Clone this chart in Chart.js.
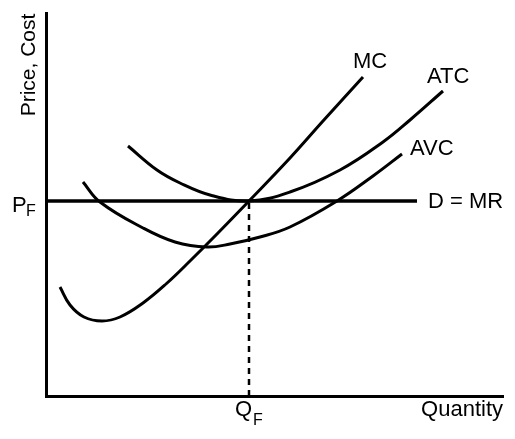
<!DOCTYPE html>
<html>
<head>
<meta charset="utf-8">
<script src="https://cdn.jsdelivr.net/npm/chart.js@4"></script>
<style>
  html, body { margin: 0; padding: 0; background: #fff; }
  #wrap { width: 515px; height: 439px; }
</style>
</head>
<body>
<div id="wrap"><canvas id="chart"></canvas></div>
<script>
// ─── Data (quantity, price/cost in arbitrary units) ──────────────────────────
var mcX  = [14, 24, 38, 56, 74, 97, 120, 145, 170, 203, 244, 277, 317];
var mcY  = [109, 91, 79, 75, 79, 93, 112, 136, 161, 195, 238, 275, 319];
var atcX = [82, 111, 134, 164, 203, 244, 294, 337, 364, 397];
var atcY = [250, 226, 213, 201, 195, 204, 226, 254, 276, 305];
var avcX = [37, 54, 97, 129, 161, 184, 214, 244, 291, 327, 356];
var avcY = [214, 194, 168, 154, 149, 152, 159, 169, 195, 220, 242];
var priceF = 195;     // P_F
var qtyF   = 203;     // Q_F
var mrEnd  = 371;     // where D = MR stops
var xMax = 457, yMax = 383;

function pts(xs, ys) { return xs.map((x, i) => ({ x: x, y: ys[i] })); }

const FONT = '"Liberation Sans", Arial, Helvetica, sans-serif';

// ─── Labels drawn on top of the chart ─────────────────────────────────────────
const labelsPlugin = {
    id: 'econLabels',
    afterDraw(chart) {
        const ctx = chart.ctx;
        const xs = chart.scales.x, ys = chart.scales.y;
        const px = v => xs.getPixelForValue(v), py = v => ys.getPixelForValue(v);
        ctx.save();
        ctx.fillStyle = '#000';
        ctx.textBaseline = 'alphabetic';
        ctx.textAlign = 'left';
        ctx.font = '22px ' + FONT;

        // curve names near their upper ends
        ctx.fillText('MC',  px(mcX[mcX.length - 1]) - 10, py(mcY[mcY.length - 1]) - 9);
        ctx.fillText('ATC', px(atcX[atcX.length - 1]) - 16, py(atcY[atcY.length - 1]) - 8);
        ctx.fillText('AVC', px(avcX[avcX.length - 1]) + 8, py(avcY[avcY.length - 1]) + 1);
        ctx.fillText('D = MR', px(mrEnd) + 11, py(priceF) + 7);

        // P_F on the price axis
        const yF = py(priceF);
        ctx.fillText('P', 12, yF + 11);
        ctx.font = '16px ' + FONT;
        ctx.fillText('F', 26, yF + 15);

        // Q_F and Quantity under the x axis
        const xF = px(qtyF);
        ctx.font = '22px ' + FONT;
        ctx.fillText('Q', xF - 14, 416);
        ctx.font = '16px ' + FONT;
        ctx.fillText('F', xF + 4, 425);
        ctx.font = '22px ' + FONT;
        ctx.textAlign = 'right';
        ctx.fillText('Quantity', px(xMax), 416);

        // vertical axis title
        ctx.translate(35, 65);
        ctx.rotate(-Math.PI / 2);
        ctx.textAlign = 'center';
        ctx.font = '21px ' + FONT;
        ctx.fillText('Price, Cost', 0, 0);
        ctx.restore();
    }
};

const curve = (data, width) => ({
    data: data,
    showLine: true,
    borderColor: '#000',
    borderWidth: width,
    pointRadius: 0,
    fill: false,
    tension: 0.4
});

new Chart(document.getElementById('chart'), {
    type: 'scatter',
    data: {
        datasets: [
            curve(pts(mcX, mcY), 3),
            curve(pts(atcX, atcY), 3),
            curve(pts(avcX, avcY), 3),
            Object.assign(curve([{ x: 0, y: priceF }, { x: mrEnd, y: priceF }], 3.5), { tension: 0 }),
            Object.assign(curve([{ x: qtyF, y: 0 }, { x: qtyF, y: priceF }], 2.5), { borderDash: [6, 5], tension: 0 })
        ]
    },
    options: {
        responsive: true,
        maintainAspectRatio: false,
        animation: false,
        layout: { padding: { left: 46, top: 13, right: 12, bottom: 43 } },
        plugins: { legend: { display: false }, tooltip: { enabled: false } },
        scales: {
            x: {
                type: 'linear', min: 0, max: xMax,
                grid: { display: false, drawTicks: false },
                border: { display: true, color: '#000', width: 3 },
                ticks: { display: false }
            },
            y: {
                type: 'linear', min: 0, max: yMax,
                grid: { display: false, drawTicks: false },
                border: { display: true, color: '#000', width: 3 },
                ticks: { display: false }
            }
        }
    },
    plugins: [labelsPlugin]
});
</script>
</body>
</html>
